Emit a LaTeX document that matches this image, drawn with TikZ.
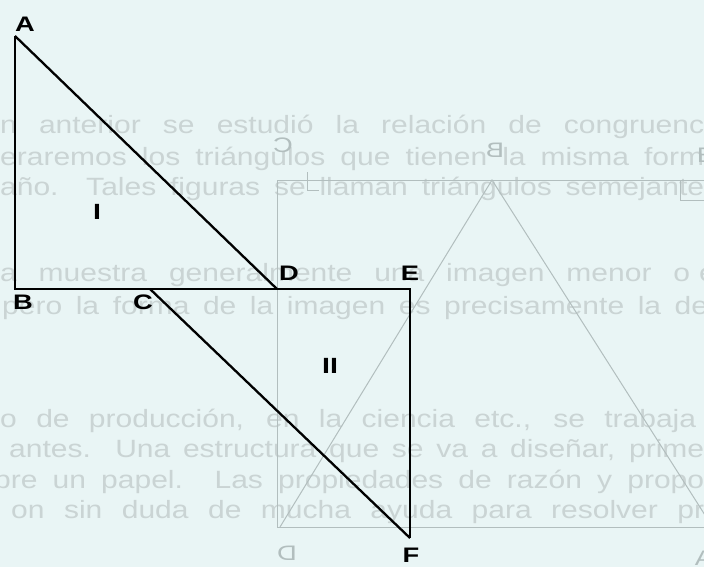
\documentclass[tikz,border=0pt]{standalone}
\usepackage{fontspec}
\usepackage{graphicx}
\setmainfont{Liberation Sans}
\newfontfamily\bgfont[FakeStretch=1.2]{Liberation Sans}
\newfontfamily\lblfont[FakeStretch=1.3]{Liberation Sans}
\definecolor{paper}{HTML}{E9F5F5}
\definecolor{ghost}{HTML}{CAD4D4}
\definecolor{ghostline}{HTML}{B2BEBE}
\begin{document}
\begin{tikzpicture}[x=1pt,y=-1pt,
  bgtext/.style={anchor=base west,inner sep=0pt,text=ghost,font=\bgfont\fontsize{25}{30}\selectfont},
  ghostlabel/.style={text=ghostline,font=\lblfont\fontsize{21}{24}\selectfont,inner sep=0pt},
  ghostln/.style={line width=1pt,draw=ghostline},
  mainline/.style={line width=2.3pt,draw=black,line join=miter},
  ptlabel/.style={font=\lblfont\bfseries\fontsize{21}{24}\selectfont,inner sep=0pt},
  romlabel/.style={font=\lblfont\bfseries\fontsize{22}{24}\selectfont,inner sep=0pt}]
\path[use as bounding box] (0,0) rectangle (704,567);
\fill[paper] (0,0) rectangle (704,567);
\begin{scope}
\clip (0,0) rectangle (704,567);
% show-through text
\node[bgtext] (t1) at (0,134) {\makebox[704pt][s]{n anterior se estudió la relación de congruenc}ia};
\node[bgtext] (t2) at (0,165) {\makebox[704pt][s]{eraremos los triángulos que tienen la misma form}a};
\node[bgtext] (t3) at (0,195) {\makebox[704pt][s]{año. Tales figuras se llaman triángulos semejante}s};
\node[bgtext] (t4) at (0,281) {\makebox[690pt][s]{a muestra generalmente una imagen menor o}\hspace{9pt}e};
\node[bgtext] (t5) at (2,314) {\makebox[706pt][s]{pero la forma de la imagen es precisamente la de}};
\node[bgtext] (t7) at (0,427) {\makebox[696pt][s]{o de producción, en la ciencia etc., se trabaja}};
\node[bgtext] (t8) at (9,457) {\makebox[695pt][s]{antes. Una estructura que se va a diseñar, prime}ro};
\node[bgtext] (t9) at (-6,488) {\makebox[710pt][s]{bre un papel. Las propiedades de razón y propo}rción};
\node[bgtext] (t10) at (11,518) {\makebox[693pt][s]{on sin duda de mucha ayuda para resolver pr}oblemas};
% show-through figure
\coordinate (gTL) at (277,180);
\coordinate (gTR) at (720,180);
\coordinate (gBL) at (277,527);
\coordinate (gBR) at (720,527);
\coordinate (gApex) at (492,180);
\coordinate (gLeft) at (280,527);
\coordinate (gRight) at (738,567);
\draw[ghostln] (gTR) -- (gTL) -- (gBL) -- (gBR);
\draw[ghostln] (gLeft) -- (gApex) -- (gRight);
\draw[ghostln] (307,172) -- (307,190) -- (319,190);
\draw[ghostln] (680,180) -- (680,200) -- (704,200);
\node[ghostlabel] (gC) at (283,145) {\reflectbox{C}};
\node[ghostlabel] (gB) at (495,150) {\reflectbox{B}};
\node[ghostlabel] (gE) at (706,155) {E};
\node[ghostlabel] (gD) at (287,553) {\reflectbox{D}};
\node[ghostlabel] (gA) at (704,558) {A};
\end{scope}
% main figure
\coordinate (A) at (15,36);
\coordinate (B) at (15,289);
\coordinate (C) at (150,289);
\coordinate (D) at (277,289);
\coordinate (E) at (410,289);
\coordinate (F) at (410,538);
\draw[mainline] (A) -- (B) -- (E) -- (F);
\draw[mainline] (A) -- (D);
\draw[mainline] (C) -- (F);
\node[ptlabel] (lA) at (25,24) {A};
\node[ptlabel] (lB) at (23,302) {B};
\node[ptlabel] (lC) at (143,302) {C};
\node[ptlabel] (lD) at (289,273) {D};
\node[ptlabel] (lE) at (410,273) {E};
\node[ptlabel] (lF) at (411,555) {F};
\node[romlabel] (lI) at (97,212) {I};
\node[romlabel] (lII) at (330,366) {II};
\end{tikzpicture}
\end{document}
